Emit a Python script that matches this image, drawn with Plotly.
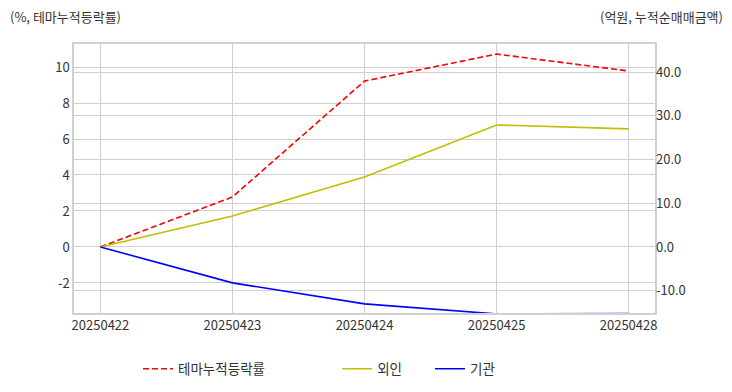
import plotly.graph_objects as go

dates = ["20250422", "20250423", "20250424", "20250425", "20250428"]
theme_return = [0.0, 2.78, 9.22, 10.72, 9.78]
foreign_net = [0.0, 7.1, 16.0, 27.9, 27.0]
inst_net = [0.0, -8.2, -13.0, -15.3, -15.2]

left_ticks = [-2, 0, 2, 4, 6, 8, 10]
left_labels = ["-2", "0", "2", "4", "6", "8", "10"]
right_ticks = [-10, 0, 10, 20, 30, 40]
right_labels = ["-10.0", "0.0", "10.0", "20.0", "30.0", "40.0"]

FONT = "Noto Sans CJK KR"
GRID = "#d0d0d0"
TXT = "#333333"

fig = go.Figure()
fig.add_trace(go.Scatter(x=dates, y=theme_return, name="테마누적등락률", mode="lines",
                         line=dict(color="#ff0000", width=1.6, dash="6px,3px"),
                         yaxis="y", legend="legend", showlegend=True))
fig.add_trace(go.Scatter(x=dates, y=foreign_net, name="외인", mode="lines",
                         line=dict(color="#bfbf00", width=1.6),
                         yaxis="y2", legend="legend2", showlegend=True))
fig.add_trace(go.Scatter(x=dates, y=inst_net, name="기관", mode="lines",
                         line=dict(color="#0000ff", width=1.6),
                         yaxis="y2", legend="legend3", showlegend=True))

leg = dict(orientation="h", xanchor="left", y=-0.208, yanchor="middle",
           font=dict(size=13.5, color=TXT), bgcolor="rgba(0,0,0,0)")

fig.update_layout(
    width=732, height=392,
    showlegend=True,
    margin=dict(l=74, r=77, t=44, b=79, autoexpand=False),
    paper_bgcolor="white", plot_bgcolor="white",
    font=dict(family=FONT, size=13, color=TXT),
    xaxis=dict(type="category", range=[-0.2, 4.2], showgrid=True, gridcolor=GRID,
               gridwidth=1, showline=True, linecolor=GRID, linewidth=1.5, mirror=True,
               ticks="", tickfont=dict(size=13, color=TXT)),
    yaxis=dict(range=[-3.67, 11.28], tickvals=left_ticks, ticktext=left_labels,
               showgrid=True, gridcolor=GRID,
               showline=True, linecolor=GRID, linewidth=1.5, mirror=True, zeroline=False,
               ticks="", tickfont=dict(size=13, color=TXT)),
    yaxis2=dict(range=[-15.09, 46.4], tickvals=right_ticks, ticktext=right_labels,
                overlaying="y", side="right", showgrid=True, gridcolor=GRID,
                zeroline=False, ticks="", tickfont=dict(size=13, color=TXT)),
    legend=dict(leg, x=0.1102),
    legend2=dict(leg, x=0.453),
    legend3=dict(leg, x=0.6127),
    annotations=[
        dict(text="(%, 테마누적등락률)", xref="paper", yref="paper", x=-0.1135, y=1.0,
             xanchor="left", yanchor="bottom", yshift=16, showarrow=False,
             font=dict(size=13, color=TXT)),
        dict(text="(억원, 누적순매매금액)", xref="paper", yref="paper", x=1.121, y=1.0,
             xanchor="right", yanchor="bottom", yshift=16, showarrow=False,
             font=dict(size=13, color=TXT)),
    ],
)

fig.write_html("out.html", post_script="document.body.style.margin='0';",
               config={"displayModeBar": False})
